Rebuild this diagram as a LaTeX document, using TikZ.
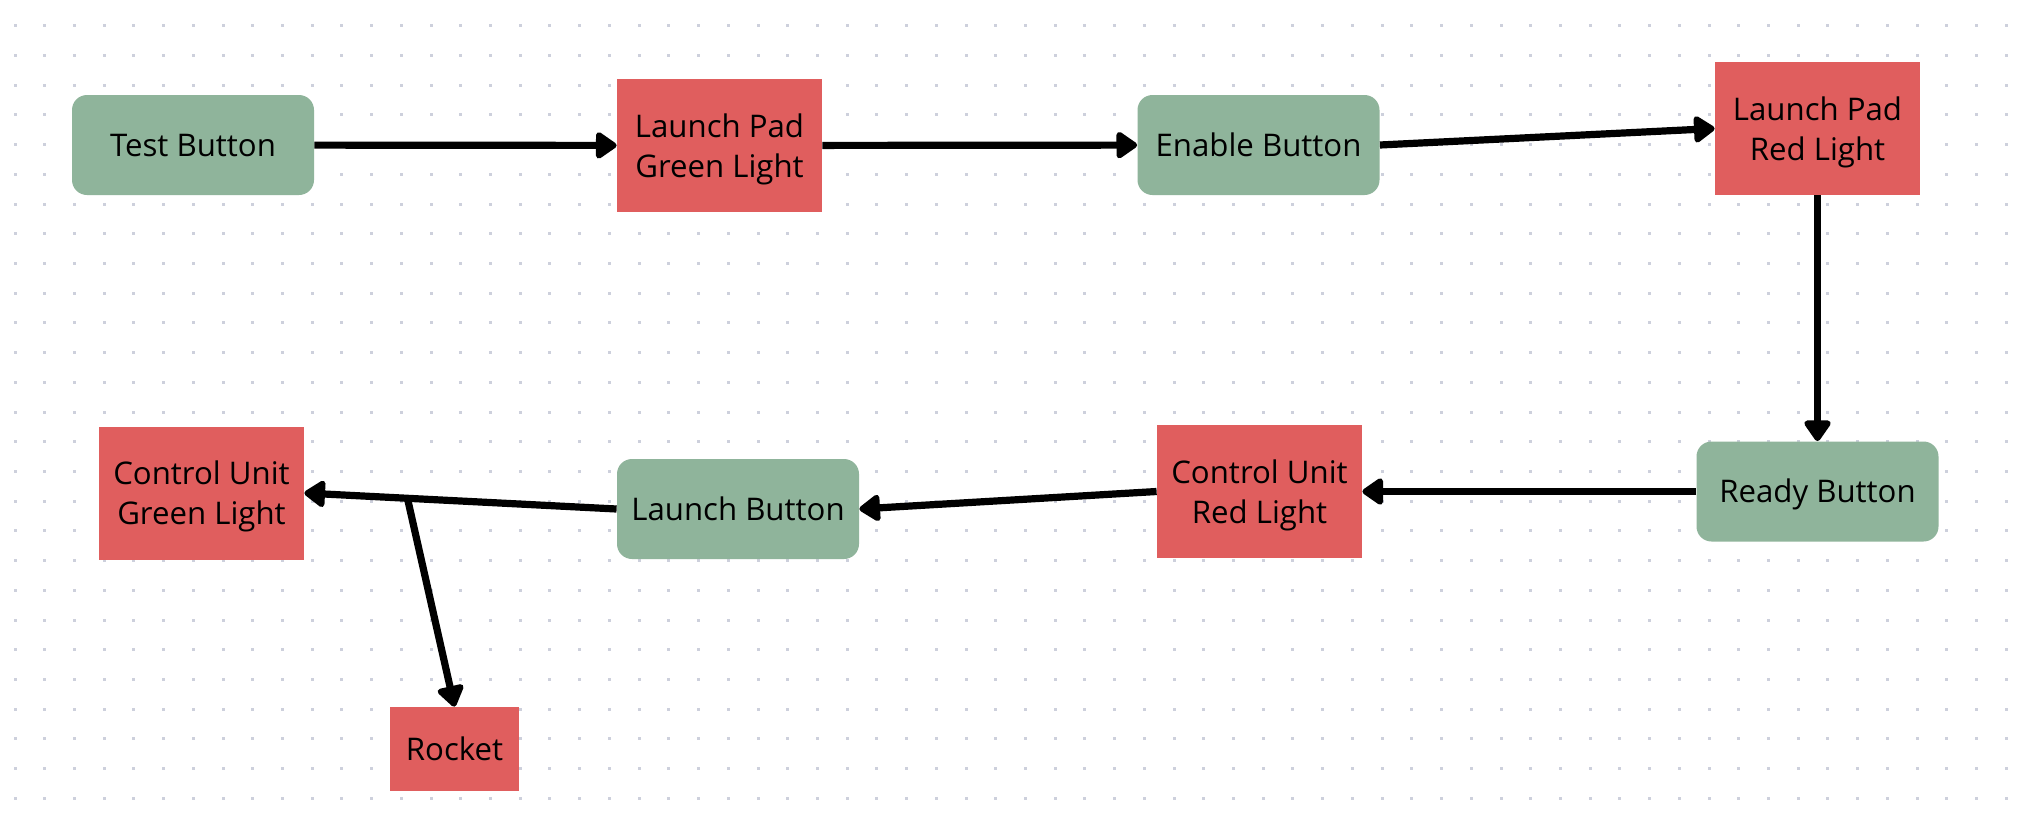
\documentclass[tikz,border=0pt]{standalone}
\usepackage{fontspec}
\setmainfont{Open Sans}
\usetikzlibrary{arrows.meta}
\definecolor{btngreen}{HTML}{8FB49B}
\definecolor{lightred}{HTML}{E05E5E}
\definecolor{dotc}{HTML}{CDD0DC}
\tikzset{
  btn/.style={fill=btngreen, rounded corners=7.5pt, minimum width=121pt, minimum height=50pt, inner sep=0pt, font=\fontsize{15.6}{20}\selectfont, align=center, text height=11pt, text depth=0pt},
  lamp/.style={fill=lightred, minimum width=102.5pt, minimum height=66.5pt, inner sep=0pt, font=\fontsize{15.6}{20}\selectfont, align=center, text depth=0pt},
  conn/.style={line width=3.6pt, -{Triangle[length=11.5pt,width=15pt,round]}}
}
\begin{document}
\begin{tikzpicture}[x=0.5pt,y=-0.5pt]
\fill[white] (0,0) rectangle (2020,820);
\useasboundingbox (0,0) rectangle (2020,820);
\foreach \i in {0,...,67} {
  \foreach \j in {0,...,26} {
    \fill[dotc] ({15+\i*29.72-1.5},{25.7+\j*29.72-1.5}) rectangle +(3,3);
  }
}
\node[btn] (test) at (193,145) {Test Button};
\node[lamp] (lpgl) at (719.5,145.5) {Launch Pad\\Green Light};
\node[btn] (enable) at (1258.5,145) {Enable Button};
\node[lamp] (lprl) at (1817.5,128.5) {Launch Pad\\Red Light};
\node[btn] (ready) at (1817.5,491.5) {Ready Button};
\node[lamp] (curl) at (1259.5,491.5) {Control Unit\\Red Light};
\node[btn] (launch) at (738,509) {Launch Button};
\node[lamp] (cugl) at (201.5,493) {Control Unit\\Green Light};
\node[lamp, minimum width=64.5pt, minimum height=42pt, text height=11pt] (rocket) at (454.5,749) {Rocket};
\draw[conn] (test) -- (lpgl);
\draw[conn] (lpgl) -- (enable);
\draw[conn] (enable.east) -- (lprl.west);
\draw[conn] (lprl) -- (ready);
\draw[conn] (ready) -- (curl);
\draw[conn] (curl.west) -- (launch.east);
\draw[conn] (launch.west) -- coordinate[pos=0.67] (branch) (cugl.east);
\draw[conn] (branch) -- (rocket.north);
\end{tikzpicture}
\end{document}
